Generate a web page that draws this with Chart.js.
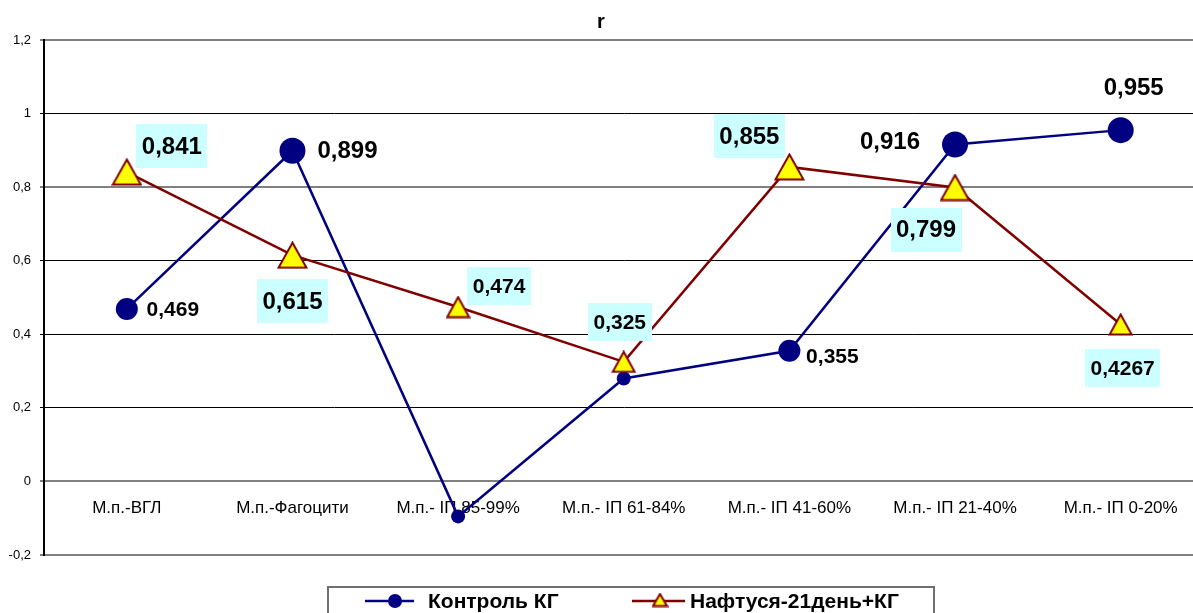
<!DOCTYPE html>
<html>
<head>
<meta charset="utf-8">
<script src="https://cdn.jsdelivr.net/npm/chart.js@4.4.1/dist/chart.umd.min.js"></script>
<style>
  html, body { margin: 0; padding: 0; background: #fff; overflow: hidden; }
  #wrap { width: 1220px; height: 613px; }
  #chart { width: 1220px; height: 613px; display: block; }
</style>
</head>
<body>
<div id="wrap"><canvas id="chart" width="1220" height="613"></canvas></div>
<script>
// Categories along the x axis
const categories = [
  'М.п.-ВГЛ',
  'М.п.-Фагоцити',
  'М.п.- ІП 85-99%',
  'М.п.- ІП 61-84%',
  'М.п.- ІП 41-60%',
  'М.п.- ІП 21-40%',
  'М.п.- ІП 0-20%'
];

// Series values (correlation coefficient r)
const controlValues   = [0.469, 0.899, -0.095, 0.28, 0.355, 0.916, 0.955];
const naftusyaValues  = [0.841, 0.615, 0.474, 0.325, 0.855, 0.799, 0.4267];

// Series names and chart title
const seriesNames = ['Контроль КГ', 'Нафтуся-21день+КГ'];
const chartTitle = 'r';

// Which points carry a value label
const controlLabelShown  = [true, true, false, false, true, true, true];
const naftusyaLabelShown = [true, true, true, true, true, true, true];

// Y axis range
const yMin = -0.2, yMax = 1.2, yStep = 0.2;

// ---- styling ----
const FONT = '"Liberation Sans", Arial, sans-serif';
const NAVY = '#000080';
const MAROON = '#800000';
const YELLOW = '#ffff00';
const LABEL_BG = '#ccffff';

const controlRadius = [11, 13, 7, 7, 11, 13, 13];
const triangleBig = [true, true, false, false, true, true, false];
const controlLabelBig = [false, true, false, false, false, true, true];
const naftusyaLabelBig = [true, true, false, false, true, true, false];

// label offsets from the point centre (px)
const controlLabelOffset = [[46, 1], [55, 1], [0, 0], [0, 0], [43, 6], [-65, -2], [13, -42]];
const naftusyaLabelOffset = [[45, -26], [0, 46], [41, -21], [-4, -40], [-40, -31], [-29, 42], [2, 44]];

function makeTriangle(w, h) {
  const c = document.createElement('canvas');
  c.width = w; c.height = h;
  const g = c.getContext('2d');
  g.beginPath();
  g.moveTo(w / 2, 1.5);
  g.lineTo(w - 1.5, h - 1.5);
  g.lineTo(1.5, h - 1.5);
  g.closePath();
  g.fillStyle = YELLOW;
  g.fill();
  g.lineWidth = 2;
  g.lineJoin = 'miter';
  g.strokeStyle = MAROON;
  g.stroke();
  return c;
}
const triBig = makeTriangle(31, 28);
const triSmall = makeTriangle(25, 23);
const triLegend = makeTriangle(17, 15);

function fmt(v) {
  return String(v).replace('.', ',');
}

const titleText = {
  id: 'titleText',
  afterDraw(chart) {
    const ctx = chart.ctx;
    ctx.save();
    ctx.font = 'bold 20px ' + FONT;
    ctx.fillStyle = '#000';
    ctx.textAlign = 'center';
    ctx.textBaseline = 'middle';
    ctx.fillText(chartTitle, 601, 22);
    ctx.restore();
  }
};

const valueLabels = {
  id: 'valueLabels',
  afterDatasetsDraw(chart) {
    const ctx = chart.ctx;
    ctx.save();
    ctx.textAlign = 'center';
    ctx.textBaseline = 'middle';
    // control series: plain bold text
    const m0 = chart.getDatasetMeta(0);
    controlValues.forEach((v, i) => {
      if (!controlLabelShown[i]) return;
      const p = m0.data[i];
      const size = controlLabelBig[i] ? 24 : 21;
      ctx.font = 'bold ' + size + 'px ' + FONT;
      ctx.fillStyle = '#000';
      ctx.fillText(fmt(v), p.x + controlLabelOffset[i][0], p.y + controlLabelOffset[i][1]);
    });
    // naftusya series: bold text on a light cyan box
    const m1 = chart.getDatasetMeta(1);
    naftusyaValues.forEach((v, i) => {
      if (!naftusyaLabelShown[i]) return;
      const p = m1.data[i];
      const big = naftusyaLabelBig[i];
      const size = big ? 24 : 21;
      ctx.font = 'bold ' + size + 'px ' + FONT;
      const txt = fmt(v);
      const w = ctx.measureText(txt).width + 11;
      const h = big ? 44 : 38;
      const cx = p.x + naftusyaLabelOffset[i][0];
      const cy = p.y + naftusyaLabelOffset[i][1];
      ctx.fillStyle = LABEL_BG;
      ctx.fillRect(Math.round(cx - w / 2), Math.round(cy - h / 2), Math.round(w), h);
      ctx.fillStyle = '#000';
      ctx.fillText(txt, cx, cy + 1);
    });
    ctx.restore();
  }
};

const categoryLabels = {
  id: 'categoryLabels',
  beforeDatasetsDraw(chart) {
    const ctx = chart.ctx;
    const xs = chart.scales.x, ys = chart.scales.y;
    const y = ys.getPixelForValue(0) + 27;
    ctx.save();
    ctx.font = '17px ' + FONT;
    ctx.fillStyle = '#000';
    ctx.textAlign = 'center';
    ctx.textBaseline = 'middle';
    categories.forEach((c, i) => ctx.fillText(c, xs.getPixelForValue(i), y));
    ctx.restore();
  }
};

const boxLegend = {
  id: 'boxLegend',
  afterDraw(chart) {
    const ctx = chart.ctx;
    ctx.save();
    ctx.strokeStyle = '#707070';
    ctx.lineWidth = 2;
    ctx.strokeRect(328, 587, 606, 40);
    ctx.font = 'bold 21px ' + FONT;
    ctx.textBaseline = 'middle';
    ctx.textAlign = 'left';
    const y = 601;
    // control
    ctx.strokeStyle = NAVY;
    ctx.lineWidth = 2.5;
    ctx.beginPath(); ctx.moveTo(365, y); ctx.lineTo(414, y); ctx.stroke();
    ctx.fillStyle = NAVY;
    ctx.beginPath(); ctx.arc(395, y, 7, 0, Math.PI * 2); ctx.fill();
    ctx.fillStyle = '#000';
    ctx.fillText(seriesNames[0], 428, y + 1);
    // naftusya
    ctx.strokeStyle = MAROON;
    ctx.beginPath(); ctx.moveTo(632, y); ctx.lineTo(685, y); ctx.stroke();
    ctx.drawImage(triLegend, 660 - triLegend.width / 2, y - triLegend.height / 2 - 1);
    ctx.fillStyle = '#000';
    ctx.fillText(seriesNames[1], 690, y + 1);
    ctx.restore();
  }
};

function isGreyLine(v) {
  const r = Math.round(v * 10) / 10;
  return r === 1.2 || r === 0.8 || r === 0 || r === -0.2;
}

new Chart(document.getElementById('chart'), {
  type: 'line',
  data: {
    labels: categories,
    datasets: [
      {
        label: seriesNames[0],
        data: controlValues,
        borderColor: NAVY,
        backgroundColor: NAVY,
        borderWidth: 2.5,
        pointStyle: 'circle',
        pointRadius: controlRadius,
        pointBackgroundColor: NAVY,
        pointBorderColor: NAVY,
        pointBorderWidth: 0,
        tension: 0,
        order: 2,
        clip: false
      },
      {
        label: seriesNames[1],
        data: naftusyaValues,
        borderColor: MAROON,
        backgroundColor: YELLOW,
        borderWidth: 2.5,
        pointStyle: triangleBig.map(b => b ? triBig : triSmall),
        pointRadius: 14,
        tension: 0,
        order: 1,
        clip: false
      }
    ]
  },
  options: {
    responsive: false,
    animation: false,
    devicePixelRatio: 1,
    layout: { padding: { left: 0, right: 8.5, top: 40, bottom: 58 } },
    plugins: {
      legend: { display: false },
      tooltip: { enabled: false },
      title: { display: false }
    },
    scales: {
      x: {
        type: 'category',
        display: false,
        offset: true
      },
      y: {
        min: yMin,
        max: yMax,
        afterFit(scale) { scale.width = 44; },
        ticks: {
          stepSize: yStep,
          color: '#000',
          padding: 9,
          font: { family: FONT, size: 13 },
          callback: v => fmt(parseFloat(v.toFixed(1)))
        },
        border: { display: true, color: '#000', width: 2 },
        grid: {
          drawTicks: true,
          tickLength: 4,
          tickColor: '#000',
          tickWidth: 1,
          color: ctx => isGreyLine(ctx.tick.value) ? '#808080' : '#000',
          lineWidth: ctx => isGreyLine(ctx.tick.value) ? 2 : 1
        }
      }
    }
  },
  plugins: [categoryLabels, valueLabels, boxLegend, titleText]
});
</script>
</body>
</html>
